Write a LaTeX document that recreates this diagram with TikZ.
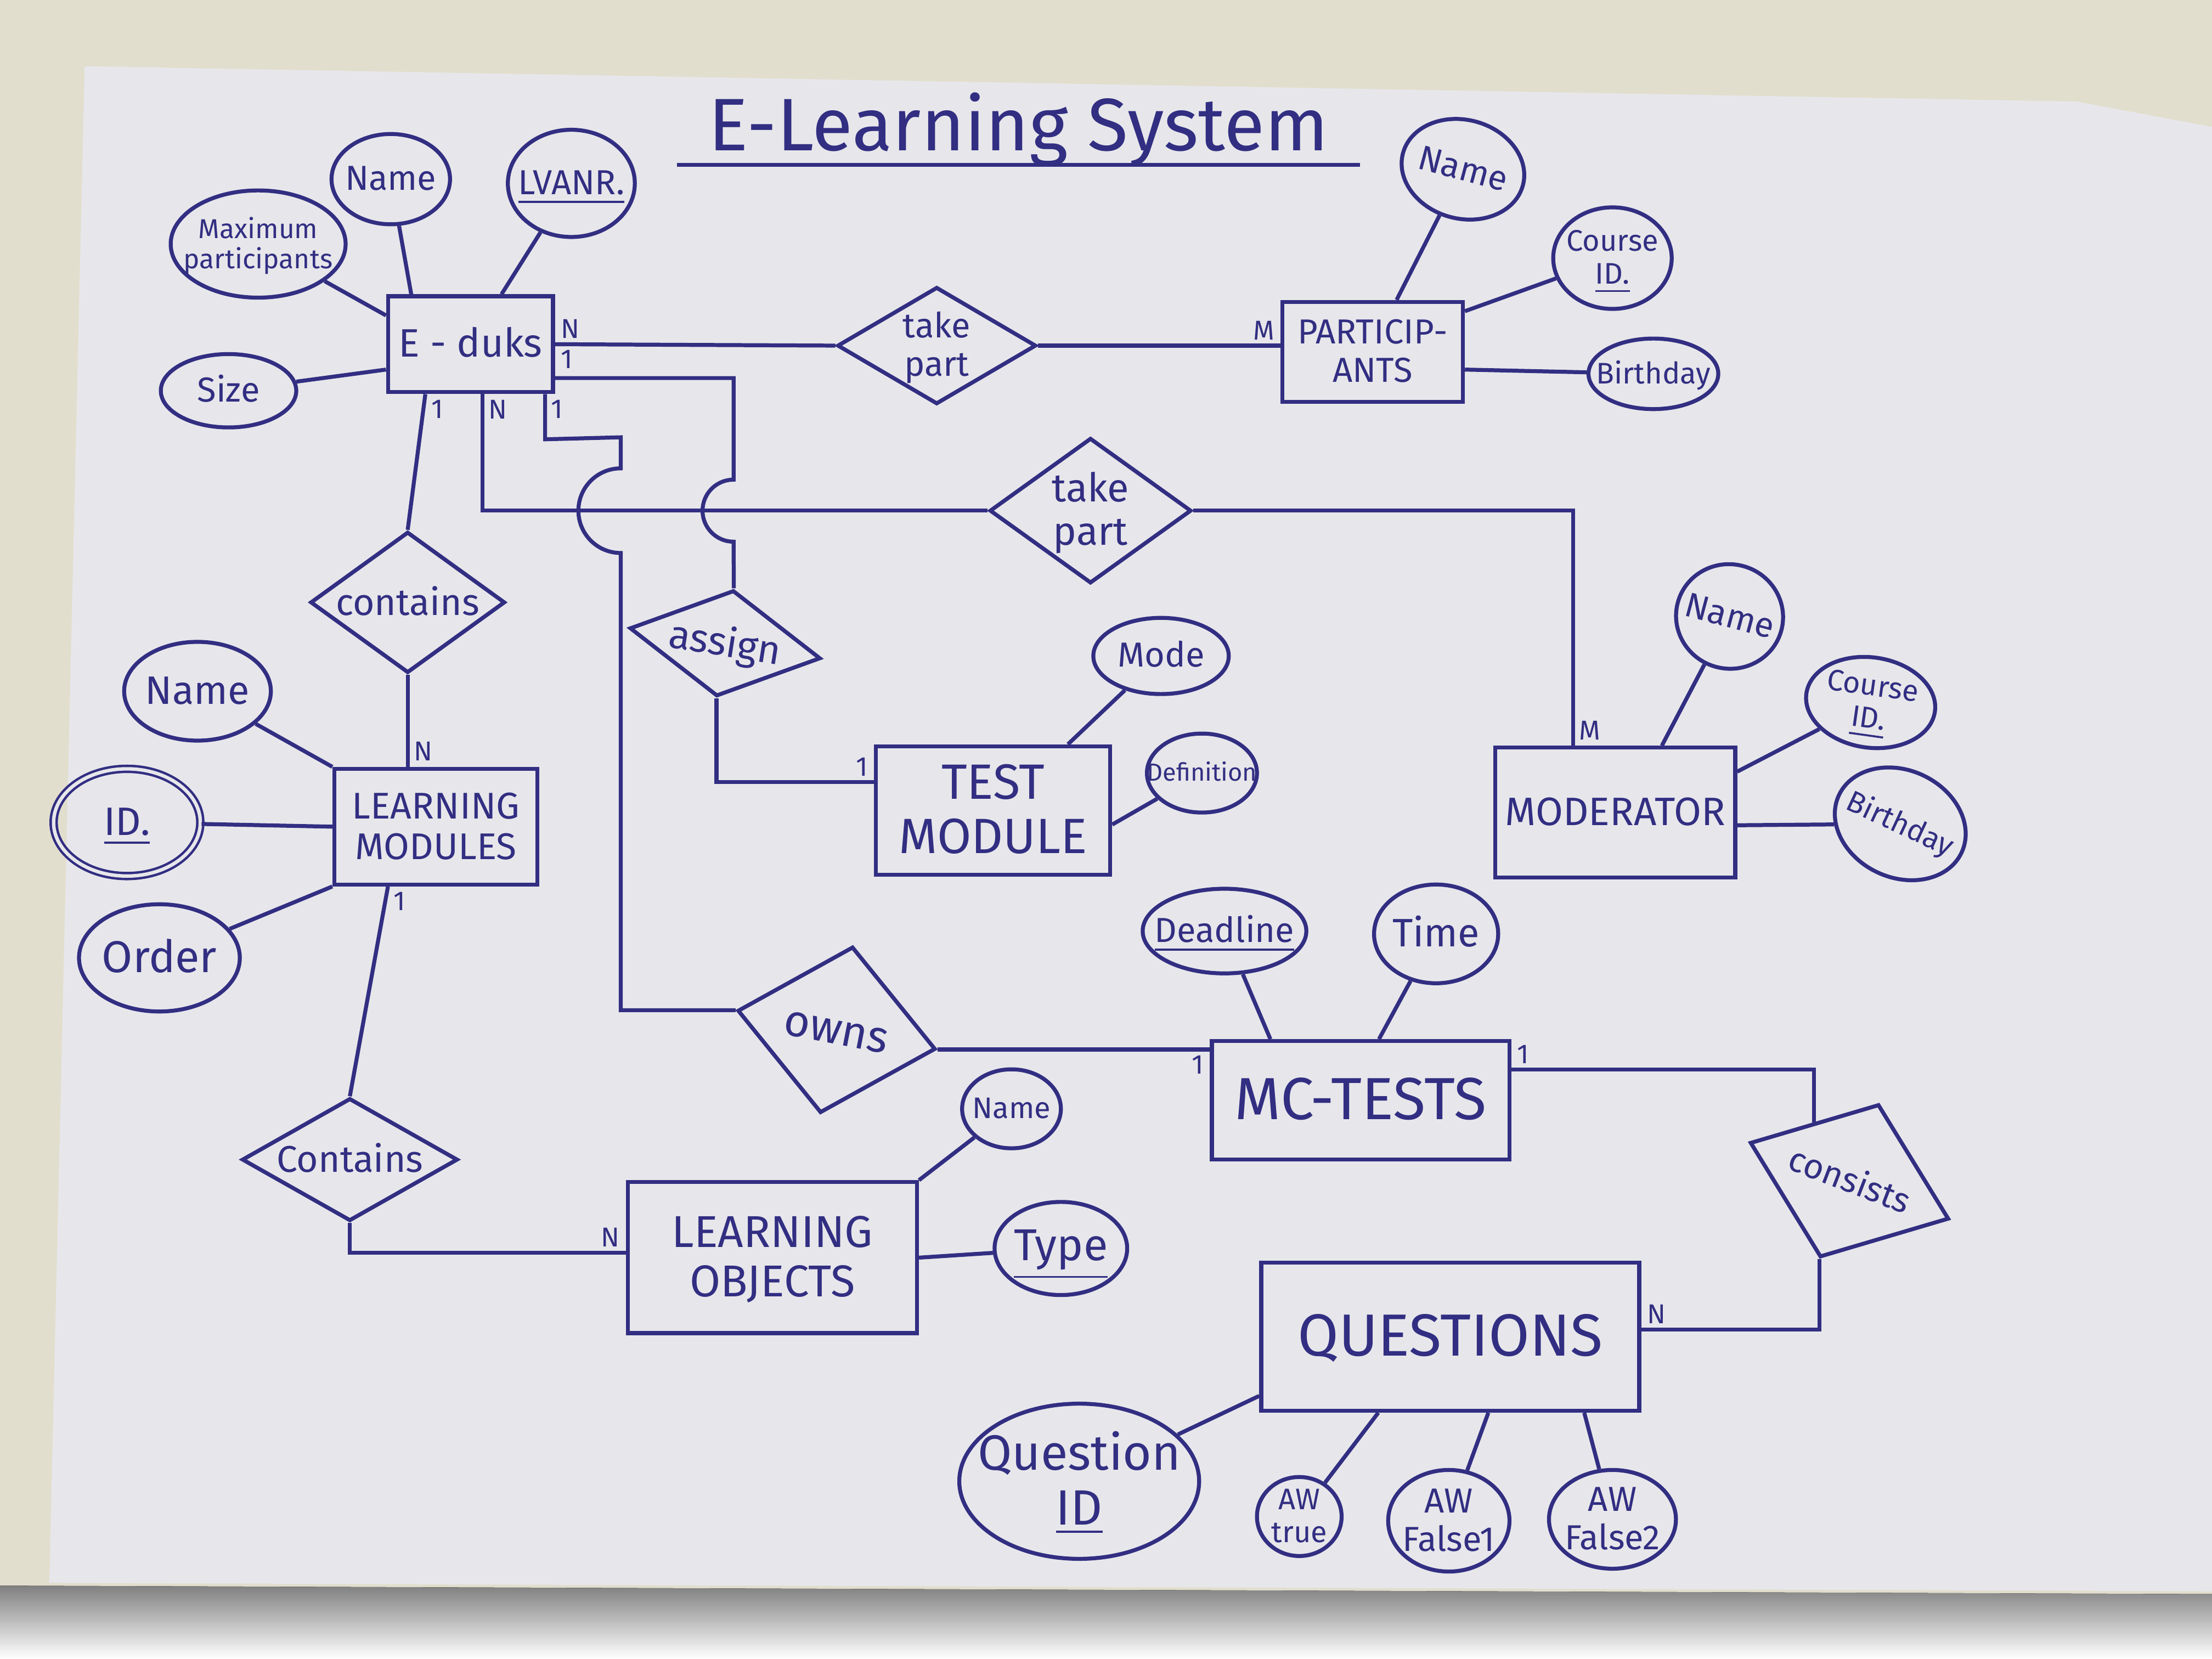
\documentclass[tikz,border=0pt]{standalone}
\usepackage{fontspec}
\setmainfont{Fira Sans}
\usetikzlibrary{shapes.geometric}

\definecolor{ink}{RGB}{50,46,130}
\definecolor{paper}{RGB}{231,231,235}
\definecolor{desk}{RGB}{226,222,206}
\definecolor{shade}{RGB}{172,168,160}

% text of zero size, so the shapes keep the size given to them
\newcommand{\lbl}[1]{\makebox[0pt]{\renewcommand{\arraystretch}{1.1}\raisebox{-.35em}[0pt][0pt]{\begin{tabular}{@{}c@{}}#1\end{tabular}}}}

\tikzset{
  fs/.style={font=\fontsize{#1}{#1}\selectfont},
  wh/.style 2 args={minimum width=#1cm, minimum height=#2cm},
  ent/.style={draw=ink, line width=0.8pt, rectangle, inner sep=0pt, text=ink},
  attr/.style={draw=ink, line width=0.8pt, ellipse, inner sep=0pt, text=ink, fs=7},
  rel/.style={draw=ink, line width=0.8pt, diamond, inner sep=0pt, text=ink, fs=7},
  card/.style={text=ink, inner sep=1pt, fs=5.5},
  link/.style={draw=ink, line width=0.8pt},
}

\begin{document}
\begin{tikzpicture}
\useasboundingbox (0,0) rectangle (15.68,-11.76);
\fill[desk] (0,0) rectangle (15.68,-11.76);
\fill[paper] (0.60,-0.47) -- (14.72,-0.72) -- (15.68,-0.90) -- (15.68,-11.28) -- (0.35,-11.22) -- cycle;
\fill[shade] (0,-11.24) -- (15.68,-11.30) -- (15.68,-11.76) -- (0,-11.76) -- cycle;

\node[text=ink, fs=15] (title) at (7.22,-0.92) {E-Learning System};
\draw[link] ([xshift=-1mm,yshift=-1mm]title.base west) -- ([xshift=1mm,yshift=-1mm]title.base east);

% entities
\node[ent, wh={1.17}{0.68}, fs=8] (eduks) at (3.335,-2.44) {\lbl{E - duks}};
\node[ent, wh={1.28}{0.71}, fs=7] (part) at (9.73,-2.495) {\lbl{PARTICIP-\\ANTS}};
\node[ent, wh={1.44}{0.82}, fs=7.5] (lmod) at (3.09,-5.86) {\lbl{LEARNING\\MODULES}};
\node[ent, wh={1.66}{0.91}, fs=10] (tmod) at (7.04,-5.745) {\lbl{TEST\\MODULE}};
\node[ent, wh={1.70}{0.92}, fs=8] (moder) at (11.45,-5.76) {\lbl{MODERATOR}};
\node[ent, wh={2.11}{0.84}, fs=12] (mct) at (9.645,-7.80) {\lbl{MC-TESTS}};
\node[ent, wh={2.05}{1.07}, fs=9] (lobj) at (5.475,-8.915) {\lbl{LEARNING\\OBJECTS}};
\node[ent, wh={2.68}{1.05}, fs=12] (quest) at (10.28,-9.475) {\lbl{QUESTIONS}};

% relationships
\node[rel, wh={1.41}{0.83}] (take1) at (6.64,-2.45) {\lbl{take\\part}};
\node[rel, wh={1.43}{1.03}, fs=8] (take2) at (7.73,-3.62) {\lbl{take\\part}};
\node[rel, wh={1.38}{1.00}, fs=7.5] (cont1) at (2.89,-4.27) {\lbl{contains}};
\node[rel, wh={1.53}{0.87}, fs=7.5] (cont2) at (2.48,-8.22) {\lbl{Contains}};
\node[rel, wh={1.37}{0.76}, fs=8, rotate=-9] (assign) at (5.14,-4.56) {\lbl{assign}};
\node[rel, wh={1.43}{1.20}, fs=9, rotate=-11] (owns) at (5.93,-7.30) {\lbl{owns}};
\node[rel, wh={1.51}{1.16}, rotate=-21] (consist) at (13.11,-8.37) {\lbl{consists}};

% attributes
\node[attr, wh={1.24}{0.76}, fs=5.5] (maxpart) at (1.83,-1.73) {\lbl{Maximum\\participants}};
\node[attr, wh={0.84}{0.64}] (ename) at (2.77,-1.27) {\lbl{Name}};
\node[attr, wh={0.90}{0.76}] (lvanr) at (4.05,-1.30) {\lbl{\underline{LVANR.}}};
\node[attr, wh={0.96}{0.52}] (esize) at (1.62,-2.77) {\lbl{Size}};
\node[attr, wh={0.88}{0.70}, rotate=-15] (pname) at (10.37,-1.20) {\lbl{Name}};
\node[attr, wh={0.84}{0.72}, fs=6] (pcid) at (11.43,-1.83) {\lbl{Course\\\underline{ID.}}};
\node[attr, wh={0.92}{0.50}, fs=6] (pbday) at (11.72,-2.65) {\lbl{Birthday}};
\node[attr, wh={1.04}{0.70}, fs=8] (lname) at (1.40,-4.90) {\lbl{Name}};
\node[attr, wh={1.04}{0.76}, fs=8, line width=0.5pt, double=paper, double distance=0.7pt] (lid) at (0.90,-5.83) {\lbl{\underline{ID.}}};
\node[attr, wh={1.14}{0.76}, fs=9] (lorder) at (1.13,-6.79) {\lbl{Order}};
\node[attr, wh={0.96}{0.54}] (mode) at (8.23,-4.65) {\lbl{Mode}};
\node[attr, wh={0.78}{0.56}, fs=5] (defin) at (8.52,-5.48) {\lbl{Definition}};
\node[attr, wh={0.76}{0.74}, rotate=-15] (mname) at (12.26,-4.37) {\lbl{Name}};
\node[attr, wh={0.92}{0.64}, fs=6, rotate=-8] (mcid) at (13.26,-4.98) {\lbl{Course\\\underline{ID.}}};
\node[attr, wh={0.96}{0.76}, fs=6, rotate=-25] (mbday) at (13.47,-5.84) {\lbl{Birthday}};
\node[attr, wh={0.70}{0.56}, fs=6] (oname) at (7.17,-7.86) {\lbl{Name}};
\node[attr, wh={0.94}{0.66}, fs=9] (otype) at (7.52,-8.85) {\lbl{\underline{Type}}};
\node[attr, wh={1.16}{0.60}, fs=7] (dline) at (8.68,-6.60) {\lbl{\underline{Deadline}}};
\node[attr, wh={0.88}{0.70}, fs=8] (ttime) at (10.18,-6.62) {\lbl{Time}};
\node[attr, wh={1.70}{1.10}, fs=10] (qid) at (7.65,-10.50) {\lbl{Question\\\underline{ID}}};
\node[attr, wh={0.60}{0.56}, fs=6] (awtrue) at (9.21,-10.75) {\lbl{AW\\true}};
\node[attr, wh={0.86}{0.72}, fs=7] (awf1) at (10.27,-10.78) {\lbl{AW\\False1}};
\node[attr, wh={0.90}{0.70}, fs=7] (awf2) at (11.43,-10.77) {\lbl{AW\\False2}};

% attribute lines
\draw[link] (maxpart) -- ([yshift=-1.5mm]eduks.north west);
\draw[link] (ename) -- ([xshift=-4.2mm]eduks.north);
\draw[link] (lvanr) -- ([xshift=2.2mm]eduks.north);
\draw[link] (esize) -- ([yshift=-1.8mm]eduks.west);
\draw[link] (pname) -- ([xshift=1.7mm]part.north);
\draw[link] (pcid) -- ([yshift=-0.8mm]part.north east);
\draw[link] (pbday) -- ([yshift=-1.25mm]part.east);
\draw[link] (lname) -- (lmod.north west);
\draw[link] (lid) -- (lmod.west);
\draw[link] (lorder) -- (lmod.south west);
\draw[link] (mode) -- ([xshift=5.3mm]tmod.north);
\draw[link] (defin) -- ([yshift=-1mm]tmod.east);
\draw[link] (mname) -- ([xshift=3.3mm]moder.north);
\draw[link] (mcid) -- ([yshift=2.9mm]moder.east);
\draw[link] (mbday) -- ([yshift=-0.9mm]moder.east);
\draw[link] (oname) -- (lobj.north east);
\draw[link] (otype) -- (lobj.east);
\draw[link] (dline) -- ([xshift=-6.4mm]mct.north);
\draw[link] (ttime) -- ([xshift=1.3mm]mct.north);
\draw[link] (qid) -- ([yshift=-4.2mm]quest.west);
\draw[link] (awtrue) -- ([xshift=-5.1mm]quest.south);
\draw[link] (awf1) -- ([xshift=2.7mm]quest.south);
\draw[link] (awf2) -- ([xshift=9.5mm]quest.south);

% relationship lines
\draw[link] (eduks.east) -- (take1.west);
\draw[link] (take1.east) -- (part.west |- take1.east);
\draw[link] ([xshift=-3.2mm]eduks.south) -- (cont1.north);
\draw[link] (cont1.south) -- (cont1.south |- lmod.north);
\draw[link] ([xshift=0.85mm]eduks.south) |- (take2.west);
\draw[link] ([xshift=-0.7mm]eduks.south east) -- ++(0,-0.32) -- (4.40,-3.10) -- (4.40,-3.32)
  arc[start angle=90, end angle=270, radius=0.3] |- (owns.west);
\draw[link] ([yshift=-2.4mm]eduks.east) -- (5.20,-2.68) -- (5.20,-3.40)
  arc[start angle=90, end angle=270, radius=0.22] -- (assign.north);
\draw[link] (assign.south) |- ([yshift=2mm]tmod.west);
\draw[link] (take2.east) -| ([xshift=-3mm]moder.north);
\draw[link] ([xshift=-3.4mm]lmod.south) -- (cont2.north);
\draw[link] (cont2.south) |- ([yshift=0.35mm]lobj.west);
\draw[link] (owns.east) -- (mct.west |- owns.east);
\draw[link] ([yshift=2.2mm]mct.east) -| (consist.north west);
\draw[link] (consist.south) |- ([yshift=0.5mm]quest.east);

% cardinalities
\node[card, above right] (cn1) at (eduks.east) {N};
\node[card, below right] (c11) at (eduks.east) {1};
\node[card, below right] (c12) at ([xshift=-3.2mm]eduks.south) {1};
\node[card, below right] (cn2) at ([xshift=0.85mm]eduks.south) {N};
\node[card, below right] (c13) at ([xshift=-0.7mm]eduks.south east) {1};
\node[card, above left] (cm1) at (part.west |- take1.east) {M};
\node[card, above right] (cn3) at (cont1.south |- lmod.north) {N};
\node[card, below right] (c14) at ([xshift=-3.4mm]lmod.south) {1};
\node[card, above left] (cn4) at ([yshift=0.35mm]lobj.west) {N};
\node[card, above left] (c15) at ([yshift=2mm]tmod.west) {1};
\node[card, above right] (cm2) at ([xshift=-3mm]moder.north) {M};
\node[card, below left] (c16) at (mct.west |- owns.east) {1};
\node[card, above right] (c17) at ([yshift=2.2mm]mct.east) {1};
\node[card, above right] (cn5) at ([yshift=0.5mm]quest.east) {N};
\end{tikzpicture}
\end{document}
